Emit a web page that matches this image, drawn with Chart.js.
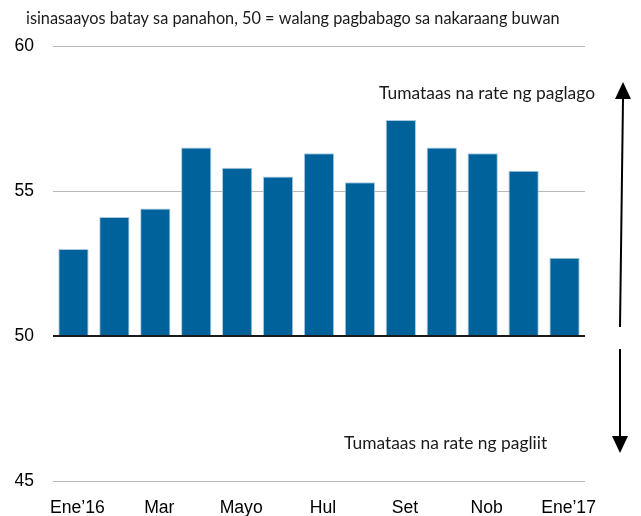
<!DOCTYPE html>
<html>
<head>
<meta charset="utf-8">
<script src="https://cdn.jsdelivr.net/npm/chart.js@4/dist/chart.umd.min.js"></script>
<style>
  html, body { margin: 0; padding: 0; background: #fff; }
  #wrap { width: 641px; height: 516px; position: relative; }
</style>
</head>
<body>
<div id="wrap"><canvas id="pmiChart"></canvas></div>
<script>
// ===== DATA =====
const MONTHS = ['Ene’16', 'Peb', 'Mar', 'Abr', 'Mayo', 'Hun', 'Hul', 'Ago', 'Set', 'Okt', 'Nob', 'Dis', 'Ene’17'];
const INDEX_VALUES = [53.0, 54.1, 54.4, 56.5, 55.8, 55.5, 56.3, 55.3, 57.45, 56.5, 56.3, 55.7, 52.7];
const Y_TICKS = [45, 50, 55, 60];
const NO_CHANGE = 50;

const SUBTITLE = 'isinasaayos batay sa panahon, 50 = walang pagbabago sa nakaraang buwan';
const NOTE_UP = 'Tumataas na rate ng paglago';
const NOTE_DOWN = 'Tumataas na rate ng pagliit';

const BAR_BLUE = '#00629b';
const GRID_GREY = '#b8b8b8';
const X_FONT = { family: "'Liberation Sans', Arial, sans-serif", size: 17.6 };
const Y_FONT = { family: "'Liberation Sans', Arial, sans-serif", size: 17.5 };
const SUBTITLE_FONT = "16.3px Lato, 'Open Sans', sans-serif";
const NOTE_FONT = "17.4px Lato, 'Open Sans', sans-serif";

function drawArrow(ctx, x0, y0, x1, y1) {
  const head = 17, half = 8;
  const dir = Math.sign(y1 - y0);
  ctx.beginPath();
  ctx.moveTo(x0, y0);
  ctx.lineTo(x1, y1 - dir * head);
  ctx.stroke();
  ctx.beginPath();
  ctx.moveTo(x1, y1);
  ctx.lineTo(x1 - half, y1 - dir * head);
  ctx.lineTo(x1 + half, y1 - dir * head);
  ctx.closePath();
  ctx.fill();
}

// subtitle, baseline at 50, arrows and notes
const annotations = {
  id: 'annotations',
  afterDatasetsDraw(chart) {
    const { ctx, chartArea } = chart;
    const y = chart.scales.y;
    const y50 = y.getPixelForValue(NO_CHANGE);
    ctx.save();

    ctx.strokeStyle = '#1a1a1a';
    ctx.lineWidth = 2;
    ctx.beginPath();
    ctx.moveTo(chartArea.left, y50);
    ctx.lineTo(chartArea.right, y50);
    ctx.stroke();

    ctx.fillStyle = '#1a1a1a';
    ctx.textBaseline = 'middle';
    ctx.textAlign = 'left';
    ctx.font = SUBTITLE_FONT;
    ctx.fillText(SUBTITLE, 26, 19);

    ctx.font = NOTE_FONT;
    ctx.textAlign = 'right';
    ctx.fillText(NOTE_UP, 595, 93);
    ctx.textAlign = 'left';
    ctx.fillText(NOTE_DOWN, 344, 443);

    ctx.strokeStyle = '#000';
    ctx.fillStyle = '#000';
    ctx.lineWidth = 2;
    const ax = chartArea.right + 36;
    drawArrow(ctx, ax - 1, y50 - 9, ax + 2, y.top + 36);
    drawArrow(ctx, ax - 1, y50 + 13, ax - 1, y.bottom - 28);
    ctx.restore();
  }
};

const ctx = document.getElementById('pmiChart').getContext('2d');
new Chart(ctx, {
  type: 'bar',
  data: {
    labels: MONTHS,
    datasets: [{
      data: INDEX_VALUES,
      base: NO_CHANGE,
      backgroundColor: BAR_BLUE,
      borderColor: 'rgba(160, 195, 220, 0.9)',
      borderWidth: { top: 1, left: 1, right: 1, bottom: 0 },
      categoryPercentage: 1,
      barPercentage: 0.74,
    }]
  },
  options: {
    responsive: true,
    maintainAspectRatio: false,
    animation: false,
    layout: { padding: { top: 46, right: 56, left: 0, bottom: 0 } },
    plugins: {
      legend: { display: false },
      tooltip: { enabled: false },
    },
    scales: {
      x: {
        grid: { display: false, drawTicks: false },
        border: { display: false },
        ticks: {
          autoSkip: false,
          maxRotation: 0,
          padding: 17,
          labelOffset: 4,
          color: '#000',
          font: X_FONT,
          callback: (v, i) => (i % 2 === 0 ? MONTHS[i] : ''),
        },
        afterFit: s => { s.height = 35; },
      },
      y: {
        min: 45,
        max: 60,
        afterBuildTicks: s => { s.ticks = Y_TICKS.map(v => ({ value: v })); },
        grid: {
          drawTicks: false,
          color: c => (c.tick && c.tick.value === NO_CHANGE ? 'rgba(0,0,0,0)' : GRID_GREY),
          lineWidth: 1,
        },
        border: { display: false },
        ticks: {
          padding: 19,
          color: '#000',
          font: Y_FONT,
        },
        afterFit: s => { s.width = 53; },
      }
    }
  },
  plugins: [annotations]
});
</script>
</body>
</html>
